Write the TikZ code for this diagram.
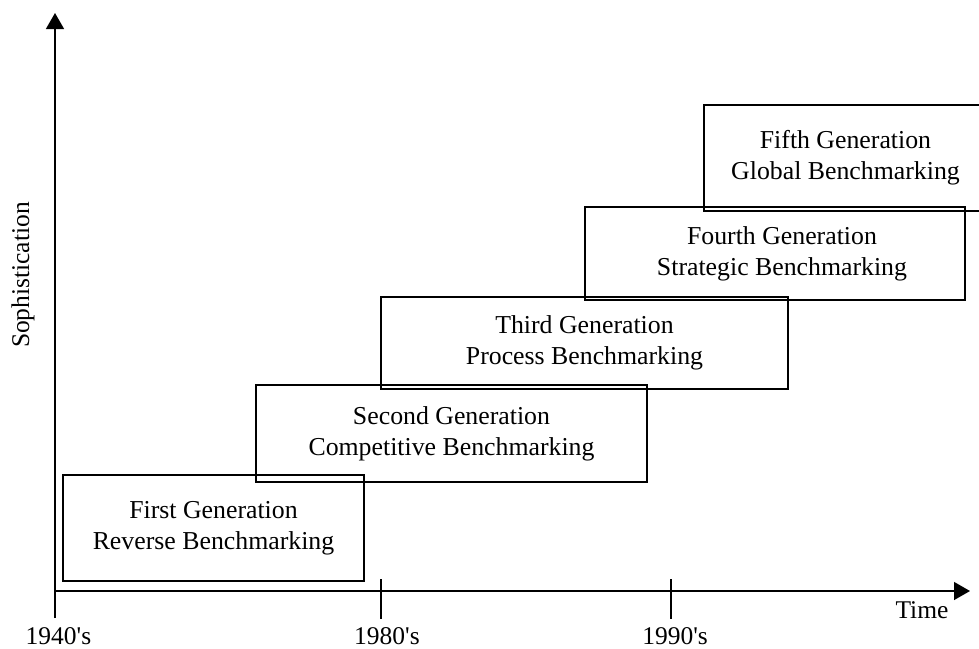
\documentclass[tikz,border=0pt]{standalone}
\usepackage{fontspec}
\setmainfont{Liberation Serif}
\usetikzlibrary{arrows.meta}
\begin{document}
\begin{tikzpicture}[x=1pt,y=-1pt,
  lbl/.style={font=\fontsize{25.5}{30}\selectfont, inner sep=0pt},
  gen/.style={draw, line width=1.6pt, align=center, inner sep=0pt,
    font=\fontsize{25.8}{31}\selectfont},
  axis/.style={line width=1.3pt, -{Triangle[length=16pt,width=18pt]}},
  tick/.style={line width=1.3pt}]
\useasboundingbox (0,0) rectangle (979,648);

% axes
\coordinate (origin) at (55,591);
\coordinate (ybot) at (55,618);
\coordinate (ytop) at (55,13);
\coordinate (xend) at (970,591);
\draw[axis] (ybot) -- (ytop);
\draw[axis] (origin) -- (xend);

% decade ticks
\coordinate (t80a) at (381,579); \coordinate (t80b) at (381,619);
\coordinate (t90a) at (671,579); \coordinate (t90b) at (671,619);
\draw[tick] (t80a) -- (t80b);
\draw[tick] (t90a) -- (t90b);

% axis labels
\node[lbl] (l40) at (58.5,636) {1940\textquotesingle s};
\node[lbl] (l80) at (387,636) {1980\textquotesingle s};
\node[lbl] (l90) at (675,636) {1990\textquotesingle s};
\node[lbl] (ltime) at (922,610) {Time};
\node[lbl, rotate=90] (lsoph) at (23,275) {Sophistication};

% generations, drawn from oldest to newest
\node[gen, minimum width=301, minimum height=106] (g1) at (213.5,528)
  {First Generation\\Reverse Benchmarking};
\node[gen, minimum width=391, minimum height=97] (g2) at (451.5,433.5)
  {Second Generation\\Competitive Benchmarking};
\node[gen, minimum width=407, minimum height=92] (g3) at (584.5,343)
  {Third Generation\\Process Benchmarking};
\node[gen, minimum width=380, minimum height=93] (g4) at (775,253.5)
  {\hspace*{14pt}Fourth Generation\\\hspace*{14pt}Strategic Benchmarking};
\node[gen, minimum width=283, minimum height=106] (g5) at (845.5,158)
  {Fifth Generation\\Global Benchmarking};
\end{tikzpicture}
\end{document}
